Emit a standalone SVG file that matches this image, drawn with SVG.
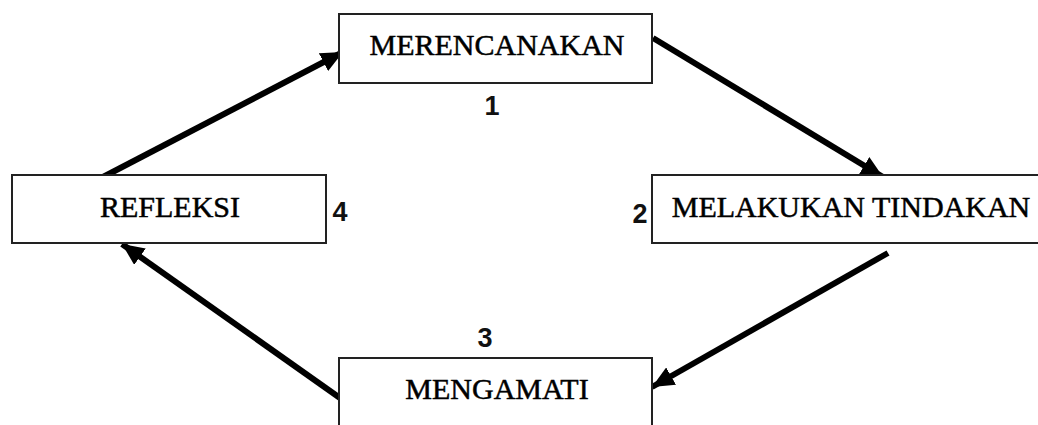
<svg xmlns="http://www.w3.org/2000/svg" width="1038" height="425" viewBox="0 0 1038 425">
<style>
.box{fill:#fff;stroke:#222;stroke-width:2}
.lbl{font-family:"Liberation Serif","Times New Roman",serif;font-size:30px;fill:#000;stroke:#000;stroke-width:0.5;text-anchor:middle}
.num{font-family:"Liberation Sans",Arial,sans-serif;font-size:27px;font-weight:bold;fill:#111;text-anchor:middle}
.arr{stroke:#000;stroke-width:6;fill:none;marker-end:url(#ah)}
</style>
<defs>
<marker id="ah" markerUnits="userSpaceOnUse" markerWidth="24" markerHeight="20" refX="22" refY="10" orient="auto">
<path d="M0,0 L22,10 L0,20 Z" fill="#000"/>
</marker>
</defs>
<rect width="1038" height="425" fill="#fff"/>
<g id="connectors">
<line class="arr" x1="103" y1="177" x2="343" y2="52"/>
<line class="arr" x1="653" y1="38" x2="883" y2="177"/>
<line class="arr" x1="888" y1="253" x2="652" y2="387"/>
<line class="arr" x1="340" y1="398" x2="122" y2="244"/>
</g>
<g id="node-merencanakan">
<rect class="box" x="339" y="14" width="313" height="69"/>
<text class="lbl" x="497" y="55">MERENCANAKAN</text>
<text class="num" x="492" y="115">1</text>
</g>
<g id="node-melakukan">
<rect class="box" x="652" y="175" width="400" height="68"/>
<text class="lbl" x="851" y="217">MELAKUKAN TINDAKAN</text>
<text class="num" x="640" y="223">2</text>
</g>
<g id="node-mengamati">
<rect class="box" x="339" y="358" width="313" height="80"/>
<text class="lbl" x="497" y="399">MENGAMATI</text>
<text class="num" x="485" y="347">3</text>
</g>
<g id="node-refleksi">
<rect class="box" x="12" y="175" width="314" height="68"/>
<text class="lbl" x="170" y="217">REFLEKSI</text>
<text class="num" x="340" y="221">4</text>
</g>
</svg>
